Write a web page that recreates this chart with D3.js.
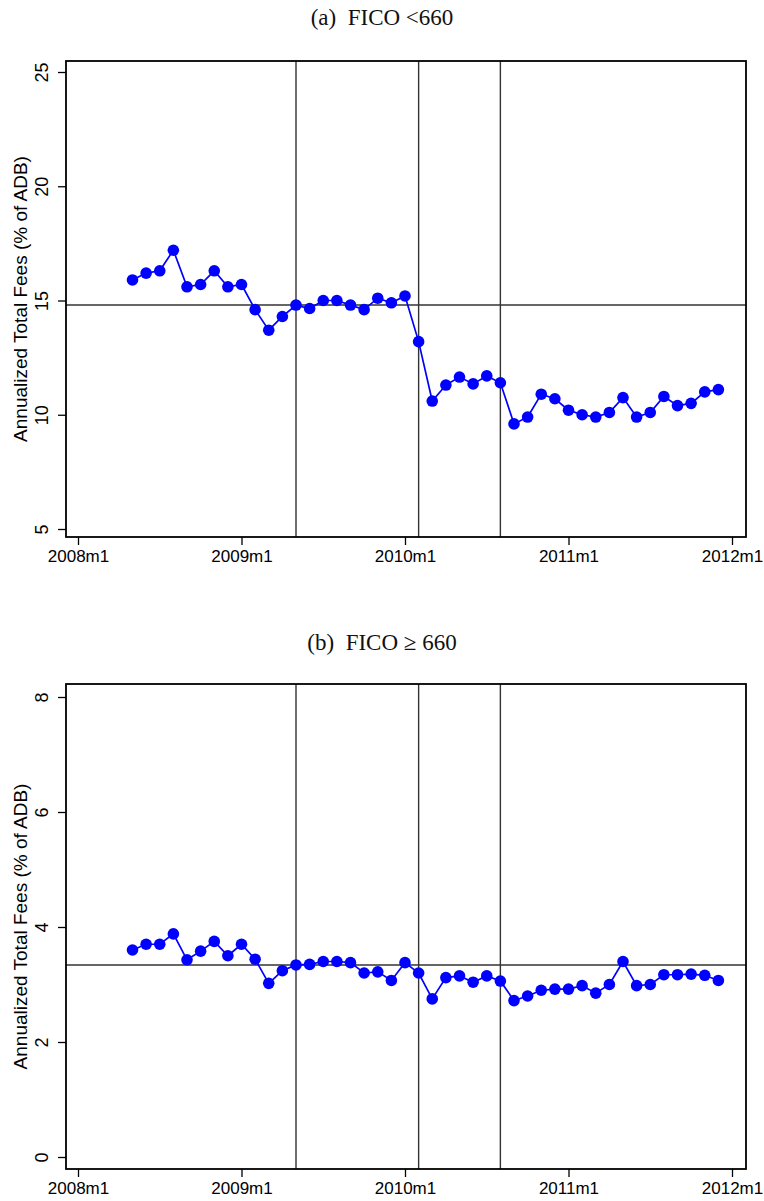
<!DOCTYPE html>
<html>
<head>
<meta charset="utf-8">
<script src="https://cdn.jsdelivr.net/npm/d3@7"></script>
<style>
  html, body { margin: 0; padding: 0; background: #fff; }
  svg { display: block; }
</style>
</head>
<body>
<svg id="chart" width="764" height="1201"></svg>
<script>
// ---- data ----
const months = ["2008m5","2008m6","2008m7","2008m8","2008m9","2008m10","2008m11","2008m12",
  "2009m1","2009m2","2009m3","2009m4","2009m5","2009m6","2009m7","2009m8","2009m9","2009m10","2009m11","2009m12",
  "2010m1","2010m2","2010m3","2010m4","2010m5","2010m6","2010m7","2010m8","2010m9","2010m10","2010m11","2010m12",
  "2011m1","2011m2","2011m3","2011m4","2011m5","2011m6","2011m7","2011m8","2011m9","2011m10","2011m11","2011m12"];
const feesLow = [15.9,16.2,16.3,17.2,15.6,15.7,16.3,15.6,15.7,14.6,13.7,14.3,14.8,14.65,15.0,15.0,14.8,14.6,15.1,14.9,15.2,13.2,
  10.6,11.3,11.65,11.35,11.7,11.4,9.6,9.9,10.9,10.7,10.2,10.0,9.9,10.1,10.75,9.9,10.1,10.8,10.4,10.5,11.0,11.1];
const feesHigh = [3.6,3.7,3.7,3.88,3.43,3.58,3.75,3.5,3.7,3.44,3.02,3.24,3.34,3.35,3.4,3.4,3.38,3.2,3.22,3.07,3.38,3.2,
  2.75,3.12,3.15,3.04,3.15,3.06,2.72,2.8,2.9,2.92,2.92,2.98,2.85,3.0,3.4,2.98,3.0,3.17,3.17,3.18,3.16,3.07];
const meanLow = 14.8;
const meanHigh = 3.34;
const eventMonths = ["2009m5","2010m2","2010m8"];
const xTicks = ["2008m1","2009m1","2010m1","2011m1","2012m1"];
const yTicksLow = [5,10,15,20,25];
const yTicksHigh = [0,2,4,6,8];
const titles = ["(a)  FICO <660", "(b)  FICO \u2265 660"];
const yTitle = "Annualized Total Fees (% of ADB)";

// ---- helpers ----
function monthIndex(s) {
  const [y, m] = s.split("m").map(Number);
  return (y - 2008) * 12 + (m - 1);
}

const svg = d3.select("#chart");
const x = d3.scaleLinear().domain([0, 48]).range([78, 732]);
const sans = "Liberation Sans, Arial, sans-serif";

function panel(opts) {
  const { top, bottom, yDomain, yRange, values, mean, ticks, title, titleY } = opts;
  const y = d3.scaleLinear().domain(yDomain).range(yRange);
  const g = svg.append("g");
  const left = 66, right = 746;

  g.append("text")
    .attr("x", 382).attr("y", titleY)
    .attr("text-anchor", "middle")
    .attr("font-family", "Liberation Serif, serif")
    .attr("font-size", 23)
    .attr("fill", "#111")
    .attr("xml:space", "preserve")
    .text(title);

  // y axis
  const yAxis = d3.axisLeft(y).tickValues(ticks).tickSize(8).tickFormat(d3.format("d"));
  const ya = g.append("g").attr("transform", `translate(${left},0)`).call(yAxis);
  ya.select(".domain").remove();
  ya.selectAll(".tick line").attr("stroke", "#000").attr("stroke-width", 1.3);
  ya.selectAll(".tick text")
    .attr("font-family", sans)
    .attr("font-size", 18)
    .attr("fill", "#000")
    .attr("x", null).attr("dy", null)
    .attr("transform", "translate(-24,0) rotate(-90)")
    .attr("dominant-baseline", "central")
    .attr("text-anchor", "middle");

  // x axis
  const xAxis = d3.axisBottom(x).tickValues(xTicks.map(monthIndex)).tickSize(8)
    .tickFormat((d, i) => xTicks[i]);
  const xa = g.append("g").attr("transform", `translate(0,${bottom})`).call(xAxis);
  xa.select(".domain").remove();
  xa.selectAll(".tick line").attr("stroke", "#000").attr("stroke-width", 1.3);
  xa.selectAll(".tick text")
    .attr("font-family", sans)
    .attr("font-size", 17)
    .attr("fill", "#000")
    .attr("y", 25).attr("dy", 0);

  // y title
  g.append("text")
    .attr("transform", `translate(20,${(top + bottom) / 2}) rotate(-90)`)
    .attr("text-anchor", "middle")
    .attr("dominant-baseline", "central")
    .attr("font-family", sans)
    .attr("font-size", 19)
    .attr("fill", "#000")
    .text(yTitle);

  // reference lines
  g.append("line")
    .attr("x1", left).attr("x2", right)
    .attr("y1", y(mean)).attr("y2", y(mean))
    .attr("stroke", "#333").attr("stroke-width", 1.4);
  g.selectAll(".vline").data(eventMonths).enter().append("line")
    .attr("x1", d => x(monthIndex(d))).attr("x2", d => x(monthIndex(d)))
    .attr("y1", top).attr("y2", bottom)
    .attr("stroke", "#333").attr("stroke-width", 1.4);

  // plot box
  g.append("rect")
    .attr("x", left).attr("y", top)
    .attr("width", right - left).attr("height", bottom - top)
    .attr("fill", "none").attr("stroke", "#000").attr("stroke-width", 1.8);

  const data = months.map((m, i) => ({ m: monthIndex(m), v: values[i] }));
  g.append("path")
    .datum(data)
    .attr("fill", "none").attr("stroke", "#0000ff").attr("stroke-width", 1.7)
    .attr("d", d3.line().x(d => x(d.m)).y(d => y(d.v)));
  g.selectAll(".pt").data(data).enter().append("circle")
    .attr("cx", d => x(d.m)).attr("cy", d => y(d.v)).attr("r", 5.8)
    .attr("fill", "#0000ff");
}

panel({ top: 61, bottom: 537, yDomain: [5, 25], yRange: [529, 72], values: feesLow, mean: meanLow,
  ticks: yTicksLow, title: titles[0], titleY: 25 });
panel({ top: 684, bottom: 1169, yDomain: [0, 8], yRange: [1157, 697], values: feesHigh, mean: meanHigh,
  ticks: yTicksHigh, title: titles[1], titleY: 650 });
</script>
</body>
</html>
